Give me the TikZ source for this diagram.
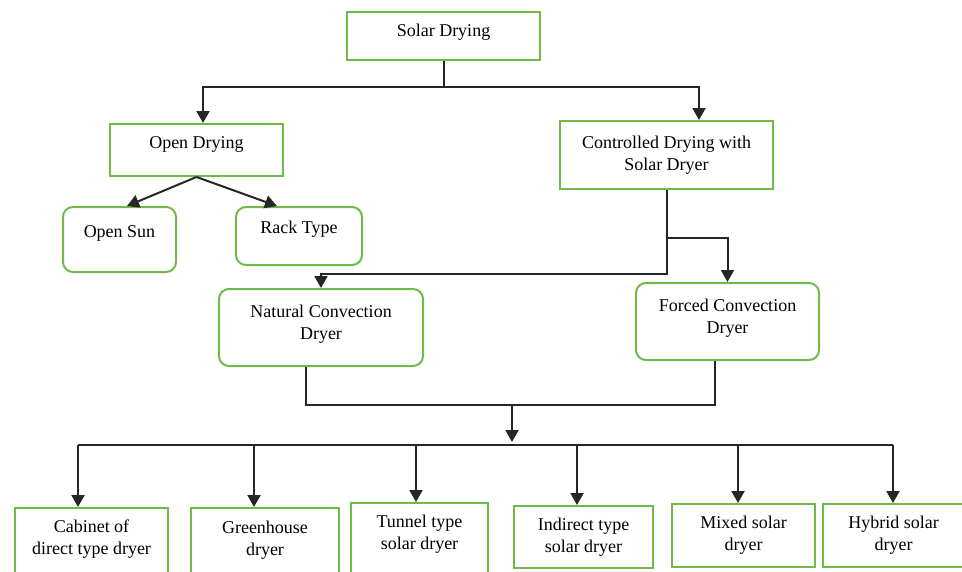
\documentclass[tikz,border=0pt]{standalone}
\usepackage{fontspec}
\setmainfont{Liberation Serif}
\usepackage{tikz}
\usetikzlibrary{arrows.meta,positioning,calc}
\definecolor{boxGreen}{RGB}{112,186,72}

\begin{document}
\begin{tikzpicture}[x=1pt, y=-1pt,
    box/.style={draw=boxGreen, line width=2pt, align=center, inner sep=0pt,
                font=\fontsize{18}{22}\selectfont},
    rbox/.style={box, rounded corners=10pt},
    lift/.style={text depth=#1},
    arr/.style={draw=black!85, line width=2pt, -{Triangle[width=13pt,length=12pt]}},
    link/.style={draw=black!85, line width=2pt}]
    \useasboundingbox (0,0) rectangle (962,571);
    \clip (0,0) rectangle (962,571);

    % Top level
    \node[box, lift=10.5pt, minimum width=193pt, minimum height=48pt] (solar) at (443.5,36) {Solar Drying};

    % Second level
    \node[box, lift=14.5pt, minimum width=173pt, minimum height=52pt] (open) at (196.5,150) {Open Drying};
    \node[box, minimum width=213pt, minimum height=68pt] (ctrl) at (666.5,155) {Controlled Drying with\\Solar Dryer};

    % Open drying kinds
    \node[rbox, lift=16.5pt, minimum width=113pt, minimum height=65pt] (opensun) at (119.5,239.5) {Open Sun};
    \node[rbox, lift=16.5pt, minimum width=126pt, minimum height=58pt] (rack) at (299,236) {Rack Type};

    % Convection kinds
    \node[rbox, lift=10.5pt, minimum width=204pt, minimum height=77pt] (natural) at (321,327.5) {Natural Convection\\Dryer};
    \node[rbox, lift=10.5pt, minimum width=183pt, minimum height=77pt] (forced) at (727.5,321.5) {Forced Convection\\Dryer};

    % Dryer types (bottom row)
    \node[box, lift=12.5pt, minimum width=153pt, minimum height=70pt] (cabinet) at (91.5,543) {Cabinet of\\direct type dryer};
    \node[box, lift=10.5pt, minimum width=148pt, minimum height=70pt] (green) at (265,543) {Greenhouse\\dryer};
    \node[box, lift=16.5pt, minimum width=137pt, minimum height=75pt] (tunnel) at (419.5,540.5) {Tunnel type\\solar dryer};
    \node[box, minimum width=139pt, minimum height=62pt] (indirect) at (583.5,537) {Indirect type\\solar dryer};
    \node[box, minimum width=143pt, minimum height=63pt] (mixed) at (743.5,535.5) {Mixed solar\\dryer};
    \node[box, minimum width=141pt, minimum height=63pt] (hybrid) at (893.5,535.5) {Hybrid solar\\dryer};

    % Solar drying split
    \draw[arr] (solar.south) -- ++(0,26) -| ([xshift=6.5pt]open.north);
    \draw[arr] (solar.south) -- ++(0,26) -| ([xshift=32.5pt]ctrl.north);

    % Open drying split
    \draw[arr] (open.south) -- ([xshift=7.5pt]opensun.north);
    \draw[arr] (open.south) -- ([xshift=-22pt]rack.north);

    % Controlled drying split
    \draw[arr] (ctrl.south) -- ++(0,84) -| (natural.north);
    \draw[arr] ([yshift=-48pt]ctrl.south) -| (forced.north);

    % Merge of both convection dryers
    \draw[link] ([xshift=-15pt]natural.south) -- ++(0,38) -| ([xshift=-12.5pt]forced.south);
    \coordinate (merge) at (512,404);
    \coordinate (bus) at (0,445);
    \draw[arr] (merge) -- ([yshift=3pt]merge |- bus);
    \draw[link] ([xshift=-13.5pt]cabinet.north |- bus) -- ([xshift=-0.5pt]hybrid.north |- bus);

    % Arrows to the bottom row
    \foreach \n/\dx in {cabinet/-13.5, green/-11, tunnel/-3.5, indirect/-6.5, mixed/-5.5, hybrid/-0.5}
        \draw[arr] ([xshift=\dx pt]\n.north |- bus) -- ([xshift=\dx pt]\n.north);
\end{tikzpicture}
\end{document}
